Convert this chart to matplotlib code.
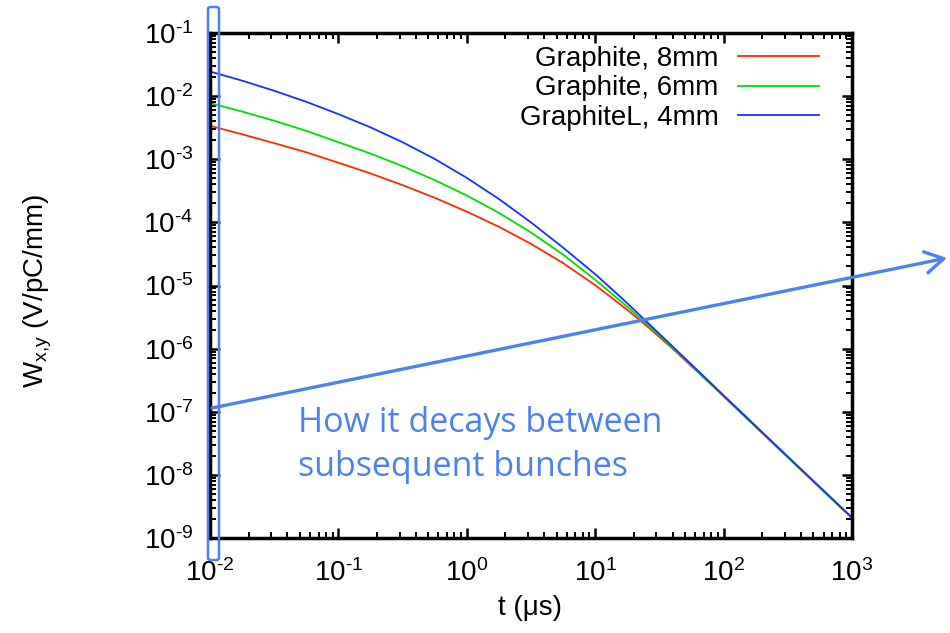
import numpy as np
import matplotlib
matplotlib.use('Agg')
from matplotlib import pyplot as plt
from matplotlib.patches import FancyBboxPatch
from matplotlib.ticker import LogLocator, NullFormatter, FixedLocator

plt.rcParams['font.family'] = ['Liberation Sans', 'DejaVu Sans']
plt.rcParams['mathtext.fontset'] = 'custom'
plt.rcParams['mathtext.rm'] = 'Liberation Sans'
plt.rcParams['mathtext.it'] = 'Liberation Sans'

# time axis (us)
t = [0.01, 0.0178, 0.0316, 0.0562, 0.1, 0.178, 0.316, 0.562, 1.0, 1.78, 3.16,
     5.62, 10, 13.3, 17.8, 25.1, 39.8, 63.1, 100, 316, 1000]

# wake (V/pC/mm), read as decades off the log axis
exp_8mm = [-2.47, -2.605, -2.745, -2.89, -3.055, -3.225, -3.41, -3.61, -3.83, -4.07, -4.34,
           -4.645, -4.995, -5.1875, -5.3875, -5.637, -5.995, -6.372, -6.757, -7.723, -8.688]
exp_6mm = [-2.11, -2.245, -2.39, -2.55, -2.73, -2.91, -3.11, -3.33, -3.575, -3.85, -4.16,
           -4.51, -4.91, -5.1225, -5.3375, -5.607, -5.98, -6.363, -6.75, -7.718, -8.683]
exp_4mm = [-1.61, -1.755, -1.915, -2.09, -2.285, -2.495, -2.73, -2.995, -3.295, -3.63, -4.0,
           -4.40, -4.82, -5.0475, -5.2825, -5.572, -5.96, -6.35, -6.74, -7.71, -8.675]

w_8mm = 10.0 ** np.array(exp_8mm)
w_6mm = 10.0 ** np.array(exp_6mm)
w_4mm = 10.0 ** np.array(exp_4mm)

labels = ['Graphite, 8mm', 'Graphite, 6mm', 'GraphiteL, 4mm']
colors = ['#ff2a00', '#00dd00', '#1133ff']

xticks = [1e-2, 1e-1, 1e0, 1e1, 1e2, 1e3]
xticklabels = ['$10^{\\text{-2}}$', '$10^{\\text{-1}}$', '$10^{0}$', '$10^{1}$', '$10^{2}$', '$10^{3}$']
yticks = [1e-9, 1e-8, 1e-7, 1e-6, 1e-5, 1e-4, 1e-3, 1e-2, 1e-1]
yticklabels = ['$10^{\\text{-%d}}$' % k for k in range(9, 0, -1)]

fig = plt.figure(figsize=(9.5, 6.33), dpi=100)
ax = fig.add_axes([210/950, 1-538/633, (852-210)/950, (538-33)/633])

for w, lab, c in zip([w_8mm, w_6mm, w_4mm], labels, colors):
    ax.plot(t, w, '-', color=c, lw=1.3, label=lab)

ax.set_xscale('log')
ax.set_yscale('log')
ax.set_xlim(1e-2, 1e3)
ax.set_ylim(1e-9, 1e-1)

ax.xaxis.set_major_locator(FixedLocator(xticks))
ax.set_xticklabels(xticklabels)
ax.yaxis.set_major_locator(FixedLocator(yticks))
ax.set_yticklabels(yticklabels)
ax.xaxis.set_minor_locator(LogLocator(base=10, subs=np.arange(2, 10), numticks=20))
ax.yaxis.set_minor_locator(LogLocator(base=10, subs=np.arange(2, 10), numticks=20))
ax.xaxis.set_minor_formatter(NullFormatter())
ax.yaxis.set_minor_formatter(NullFormatter())

ax.tick_params(which='both', direction='in', top=True, right=True, labelsize=20, width=1.8)
ax.tick_params(which='major', length=7)
ax.tick_params(which='minor', length=4, width=1.4)
ax.tick_params(axis='y', pad=12)
ax.tick_params(axis='x', pad=15)
for s in ax.spines.values():
    s.set_linewidth(2.5)

ax.set_xlabel('t (μs)', fontsize=20)
ax.xaxis.set_label_coords(0.498, -0.112)
ax.set_ylabel('W$_{\\text{x,y}}$ (V/pC/mm)', fontsize=20)
ax.yaxis.set_label_coords(-0.243, 0.49)

leg = ax.legend(loc='upper right', frameon=False, markerfirst=False, fontsize=20,
                handlelength=2.9, handletextpad=0.7, labelspacing=0.13,
                borderaxespad=0.0, borderpad=0.0, bbox_to_anchor=(0.948, 0.975))

# annotation overlay
blue_note = '#4d80f0'
fig.patches.append(FancyBboxPatch((208/950, 1-560/633), 11/950, 553/633,
                                  boxstyle='round,pad=0,rounding_size=0.003',
                                  transform=fig.transFigure, fill=False,
                                  ec=blue_note, lw=1.8))
ax.annotate('', xy=(947/950, 1-258/633), xytext=(212/950, 1-408/633),
            xycoords='figure fraction', textcoords='figure fraction',
            arrowprops=dict(arrowstyle='->,head_length=0.6,head_width=0.35',
                            color=blue_note, lw=2.4, mutation_scale=22,
                            shrinkA=0, shrinkB=0))
fig.text(298/950, 1-445/633, 'How it decays between\nsubsequent bunches',
         color=blue_note, fontsize=24.5, family=['Open Sans', 'DejaVu Sans'],
         ha='left', va='center', linespacing=1.36)

plt.savefig('out.png', dpi=100)
